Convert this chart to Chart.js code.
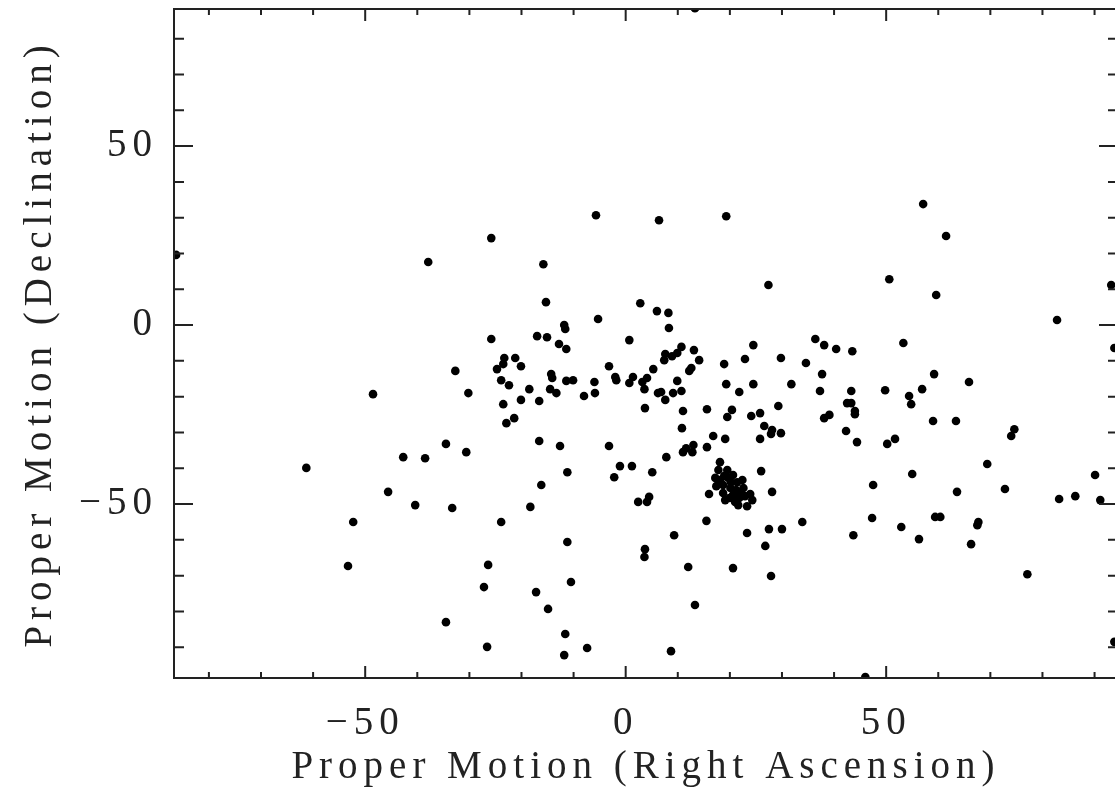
<!DOCTYPE html>
<html>
<head>
<meta charset="utf-8">
<title>Proper Motion</title>
<script src="https://cdn.jsdelivr.net/npm/chart.js@4.4.1/dist/chart.umd.min.js"></script>
<style>
  html, body { margin: 0; padding: 0; background: #fff; overflow: hidden; }
  #pm-chart { display: block; }
</style>
</head>
<body>
<canvas id="pm-chart" width="1130" height="791"></canvas>
<script>
// Proper motions, grouped by region (RA, Dec)
const raUpper = [-86.3, -37.9, -25.8, -5.7, 6.4, 19.3, 27.4, 50.6, 57.1, 61.5,
  93.2, 13.3, -15.8, -15.3, 2.8, 6.0, 8.2, 8.3, -5.3, -25.8,
  -17.0, -15.1, -11.8, -11.6, -12.8, -11.4, 0.7, 10.7, 13.1, 24.5,
  59.6, 82.8, 36.4, 38.1, 40.4, 43.5, 53.3];
const decUpper = [19.6, 17.6, 24.3, 30.7, 29.3, 30.4, 11.2, 12.8, 33.8, 24.9,
  11.2, 88.5, 17.0, 6.4, 6.1, 3.9, 3.4, -0.8, 1.7, -3.9,
  -3.1, -3.4, 0.0, -1.1, -5.3, -6.7, -4.2, -6.1, -7.0, -5.6,
  8.4, 1.4, -3.9, -5.6, -6.7, -7.3, -5.0];

const raLeft = [-32.7, -48.5, -30.2, -34.5, -30.6, -42.7, -38.5, -61.3, -45.6, -40.4,
  -33.3, -52.3, -53.3, -26.4, -27.2, -34.5, -26.6, -17.2, -14.9];
const decLeft = [-12.8, -19.3, -19.0, -33.2, -35.5, -36.9, -37.2, -39.9, -46.6, -50.3,
  -51.1, -55.0, -67.3, -67.0, -73.2, -83.0, -89.9, -74.6, -79.3];

const raMiddle = [-23.3, -21.2, -23.5, -24.7, -20.1, -23.9, -22.4, -18.5, -14.3, -14.1,
  -14.5, -13.3, -11.4, -10.1, -6.0, -5.9, -8.0, -3.2, -2.0, -1.8,
  0.7, 1.4, 3.2, 4.1, 3.6, 5.3, 7.6, 7.4, 8.9, 9.9,
  14.1, 12.2, 12.6, 9.9, 6.2, 6.8, 7.6, 9.1, 10.7, 3.7,
  11.0, 10.8, 15.6, 18.9, 19.3, 21.8, 22.9, 24.5, 29.8, 31.8,
  34.6, 20.4, 19.5, 24.1, 25.8, 29.3, 26.6, 28.1, 27.9, 29.8,
  25.8, 19.1, 16.8, 15.6, 13.0, 11.6, 11.0, 12.8, 7.8, -23.5,
  -22.9, -21.4, -20.1, -16.6, -16.6, -12.6, -3.2, -1.1, 1.2, -2.2,
  5.1, -11.2, -16.2, -18.3, -23.9, 2.4, 4.1, 4.5, 26.0, 28.1,
  16.0, 15.5, 23.3, 27.5, 30.0, 26.8, 33.9, 9.3, 12.0, 20.6,
  27.9, -11.2, 3.7, 3.6, -10.5, 13.3, -11.6, -11.8, -7.4, 8.7];
const decMiddle = [-9.2, -9.2, -10.9, -12.3, -11.5, -15.4, -16.8, -17.9, -13.7, -14.8,
  -17.9, -19.0, -15.6, -15.4, -15.9, -19.0, -19.8, -11.5, -14.5, -15.4,
  -16.2, -14.5, -15.9, -14.8, -17.9, -12.3, -8.1, -9.8, -8.7, -7.8,
  -9.8, -12.8, -12.0, -15.6, -19.0, -18.7, -20.9, -19.0, -18.4, -23.2,
  -24.0, -28.8, -23.5, -10.9, -16.5, -18.7, -9.5, -16.5, -9.2, -16.5,
  -10.6, -23.7, -25.7, -25.4, -24.6, -22.6, -28.2, -29.3, -30.4, -30.2,
  -31.8, -31.8, -31.0, -34.1, -33.5, -34.4, -35.5, -35.5, -36.9, -22.1,
  -27.4, -26.0, -20.9, -21.2, -32.4, -33.8, -33.8, -39.4, -39.4, -42.5,
  -41.1, -41.1, -44.7, -50.8, -55.0, -49.4, -49.4, -48.0, -40.8, -46.6,
  -47.2, -54.7, -58.1, -57.0, -57.0, -61.7, -55.0, -58.7, -67.6, -67.9,
  -70.1, -60.6, -62.6, -64.8, -71.8, -78.2, -86.3, -92.2, -90.2, -91.1];

// the dense clump near (20, -46)
const raClump = [18.1, 19.5, 17.2, 18.7, 21.4, 22.6, 24.3, 23.3, 21.0, 18.7,
  20.6, 20.1, 22.0, 19.7, 17.8, 19.1, 21.6, 22.9, 20.2, 18.1,
  20.6, 22.4, 19.9, 21.2, 17.4, 23.9, 18.9, 21.8];
const decClump = [-38.3, -40.5, -42.7, -44.7, -43.9, -45.5, -48.9, -50.6, -49.4, -46.9,
  -47.5, -45.5, -46.9, -42.7, -40.5, -48.9, -50.3, -47.8, -43.9, -43.3,
  -41.9, -43.3, -48.3, -46.1, -45.0, -47.2, -42.2, -48.3];

const raRight = [37.7, 37.3, 43.3, 49.8, 54.4, 54.8, 56.9, 59.2, 65.9, 42.5,
  43.3, 44.0, 44.0, 38.1, 39.1, 42.3, 44.4, 50.2, 51.7, 59.0,
  63.4, 69.4, 74.0, 74.6, 55.0, 47.5, 63.6, 72.8, 83.2, 86.3,
  90.1, 91.1, 47.3, 52.9, 59.4, 60.4, 56.3, 67.7, 67.5, 66.3,
  43.7, 77.1, 46.0, 93.8, 93.8];
const decRight = [-13.7, -18.4, -18.4, -18.2, -19.8, -22.1, -17.9, -13.7, -15.9, -21.8,
  -21.8, -24.0, -24.9, -26.0, -25.1, -29.6, -32.7, -33.2, -31.8, -26.8,
  -26.8, -38.8, -31.0, -29.1, -41.6, -44.7, -46.6, -45.8, -48.6, -47.8,
  -41.9, -48.9, -53.9, -56.4, -53.6, -53.6, -59.8, -55.0, -55.9, -61.2,
  -58.7, -69.6, -98.3, -6.4, -88.5];

// axis ranges and ticks
const xRange = [-86.7, 94.5];
const yRange = [-98.6, 88.3];
const labelTicks = [-50, 0, 50];
const xMinorTicks = [-80, -70, -60, -50, -40, -30, -20, -10, 0, 10, 20, 30, 40, 50, 60, 70, 80, 90];
const yMinorTicks = [-90, -80, -70, -60, -50, -40, -30, -20, -10, 0, 10, 20, 30, 40, 50, 60, 70, 80];

const FONT_FAMILY = '"Liberation Serif", "Times New Roman", serif';
const INK = '#222';
const LETTER_SPACING = '6px';

function toPoints(xs, ys) {
    return xs.map((x, i) => ({ x: x, y: ys[i] }));
}

const points = [].concat(
    toPoints(raUpper, decUpper),
    toPoints(raLeft, decLeft),
    toPoints(raMiddle, decMiddle),
    toPoints(raClump, decClump),
    toPoints(raRight, decRight)
);

function tickLabel(value) {
    return value < 0 ? '\u2212' + Math.abs(value) : String(value);
}

// pin the axis boxes so the plot area lands where the original one is
function pinScale(size) {
    return s => {
        if (s.isHorizontal()) s.height = size; else s.width = size;
        s.paddingTop = 0;
        s.paddingBottom = 0;
        s.paddingLeft = 0;
        s.paddingRight = 0;
    };
}

// box round the plot with inward ticks on all four sides
const framePlugin = {
    id: 'frame',
    beforeDraw(chart) {
        chart.ctx.letterSpacing = LETTER_SPACING;
    },
    afterDatasetsDraw(chart) {
        const { ctx, chartArea: a, scales: { x, y } } = chart;
        ctx.save();
        ctx.strokeStyle = INK;
        ctx.lineWidth = 2;
        ctx.strokeRect(a.left, a.top, a.right - a.left, a.bottom - a.top);
        ctx.beginPath();
        xMinorTicks.forEach(v => {
            const px = x.getPixelForValue(v);
            const len = labelTicks.includes(v) ? 12 : 6;
            ctx.moveTo(px, a.bottom); ctx.lineTo(px, a.bottom - len);
            ctx.moveTo(px, a.top); ctx.lineTo(px, a.top + len);
        });
        yMinorTicks.forEach(v => {
            const py = y.getPixelForValue(v);
            const len = labelTicks.includes(v) ? 19 : 10;
            ctx.moveTo(a.left, py); ctx.lineTo(a.left + len, py);
            ctx.moveTo(a.right, py); ctx.lineTo(a.right - len, py);
        });
        ctx.stroke();
        ctx.restore();
    }
};

const ctx = document.getElementById('pm-chart').getContext('2d');

const chart = new Chart(ctx, {
    type: 'scatter',
    data: {
        datasets: [{
            data: points,
            backgroundColor: '#000',
            borderWidth: 0,
            pointRadius: 4.3,
            clip: 0
        }]
    },
    options: {
        responsive: false,
        animation: false,
        devicePixelRatio: 1,
        events: [],
        layout: { padding: { top: 9, right: 12, left: 0, bottom: 0 } },
        plugins: {
            legend: { display: false },
            tooltip: { enabled: false }
        },
        scales: {
            x: {
                type: 'linear',
                position: 'bottom',
                min: xRange[0],
                max: xRange[1],
                grid: { display: false, drawTicks: false },
                border: { display: false },
                afterBuildTicks: s => { s.ticks = labelTicks.map(v => ({ value: v })); },
                afterFit: pinScale(113),
                ticks: {
                    color: INK,
                    padding: 22,
                    maxRotation: 0,
                    autoSkip: false,
                    font: { family: FONT_FAMILY, size: 39 },
                    callback: tickLabel
                },
                title: {
                    display: true,
                    text: 'Proper Motion (Right Ascension)',
                    color: INK,
                    padding: { top: 0, bottom: 0 },
                    font: { family: FONT_FAMILY, size: 39 }
                }
            },
            y: {
                type: 'linear',
                min: yRange[0],
                max: yRange[1],
                grid: { display: false, drawTicks: false },
                border: { display: false },
                afterBuildTicks: s => { s.ticks = labelTicks.map(v => ({ value: v })); },
                afterFit: pinScale(174),
                ticks: {
                    color: INK,
                    padding: 16,
                    autoSkip: false,
                    font: { family: FONT_FAMILY, size: 39 },
                    callback: tickLabel
                },
                title: {
                    display: true,
                    text: 'Proper Motion (Declination)',
                    color: INK,
                    padding: { top: 17, bottom: 0 },
                    font: { family: FONT_FAMILY, size: 39 }
                }
            }
        }
    },
    plugins: [framePlugin]
});
</script>
</body>
</html>
